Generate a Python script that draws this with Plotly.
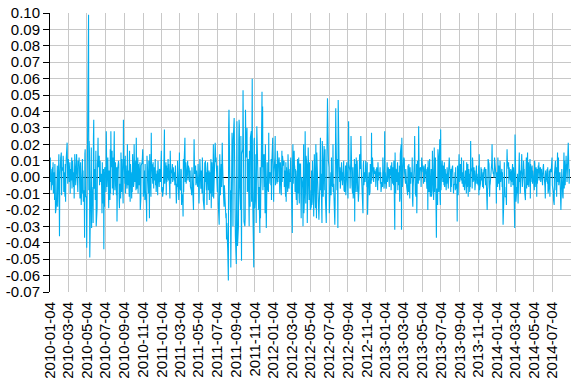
import pandas as pd
import plotly.graph_objects as go

# Daily returns, in thousandths, one line per month
r2010 = [
    4, 12, -3, 5, -8, 2, 6, -5, 9, -10, 3, -14, 8, -2, -22, -17, 4, -12, 7, -18,
    10, 14, -8, -36, -2, 12, -6, 15, -11, 6, 4, 13, 9, -9, 3, -12, 8, -15, 5, 11,
    21, 8, -4, 6, 11, -3, 2, 9, -10, 5, -2, 12, -7, 4, 10, -6, 3, -13, 7, 14, -5, 2, 8,
    14, 6, -9, 10, -4, 7, 12, -13, 5, 9, -6, -17, 3, 11, -10, 4, -15, -8, -37, 14, 17, -12,
    -12, -43, -18, -30, -26, 99, -8, 22, 15, -49, -11, -22, 18, -31, -6, -15, -28, 24, 35, -7, 5,
    -14, 12, 16, -30, -19, 8, 11, 24, 6, 13, -5, 7, 10, -3, 2, -11, -22, 9, -16, 5, -44, 3,
    -18, 6, 5, -9, 28, 14, -6, 12, -8, 7, -19, 4, -14, 17, -10, 28, 6, 16, -7, 9, 12, -11,
    28, 4, -8, -3, 9, -11, 6, -27, -12, 5, 10, 8, -14, -19, -4, -13, 15, -6, -9, 11, -2, -16,
    35, 6, 11, -4, 13, -10, 7, 2, -7, 20, 9, -5, 4, -12, 16, -3, -15, 8, -6, -13, 3, -9,
    14, -6, -4, 20, 5, -3, 10, -8, 24, 3, -7, 12, -10, 8, 2, -5, 9, -20, 4, -13, 7,
    9, 12, 17, 11, -12, -6, 4, -14, 8, -9, -16, -27, 13, 6, -3, -10, 10, -22, -25, 14, -6, -12,
    27, 5, 8, -4, 9, 3, -7, 6, -2, 11, -5, 2, -9, 4, 1, -11, 10, 3, -6, 5, -2, 4, -3,
]
r2011 = [
    16, -8, -9, -6, -12, -7, 14, 15, 29, -4, 6, 9, -11, 7, -3, 5, 11, -2, 8, 3, -13,
    16, 7, -4, 2, 5, 8, -3, 4, 6, -2, 3, -5, 1, 7, -16, -12, -4, -6, 10, -9,
    -14, -9, 15, -6, -8, 5, 4, -17, -10, -15, -24, 11, -9, 6, 24, -3, 7, 9, -4, 8, 3, 10, -2,
    7, 5, -3, 2, 4, -6, -8, -11, 6, -4, 3, -20, 4, 23, 9, 2, 7, -5, 3, 4, -2,
    -6, 8, -12, 5, -16, 11, -4, 9, -7, 4, -10, 12, -5, 7, -14, -20, 6, 9, -3, 10, -8, 3,
    -17, 5, 9, -8, -6, 4, -14, 3, -10, 11, -19, 2, 9, -12, 18, 20, -13, -6, 12, 21, 15, 9,
    12, -4, -9, 7, -13, -16, -29, -12, 14, 4, -11, 8, -6, 16, 21, 9, -10, -14, -18, -5, -15,
    -21, -25, -22, -38, -28, -45, 24, -63, 30, 41, 6, -20, -8, -55, -17, 27, 4, 18, -30, 23, 36, -5, 12,
    -24, -36, -53, -8, 34, -21, -42, -30, 22, 35, 31, -6, -20, 25, -11, -51, 14, 17, 53, -18, 10, -27,
    -30, -25, 41, 28, 12, 30, -9, 18, -8, 11, -30, 16, -12, -18, 24, 28, -15, 4, 60, -6, -32,
    -55, 22, 24, -19, -6, 14, -28, 8, 31, -10, -9, -4, -20, -6, -34, 6, -25, -8, -3, 52, 6, 43,
    -8, 12, 14, -6, -3, -22, 20, -31, 4, -19, 9, -6, -9, 27, -4, 6, 3, 2, -5, 11, -14, 8,
]
r2012 = [
    24, -9, -10, -15, 3, 12, 25, -5, 10, 8, -4, 16, 14, -3, 7, 12, -6, -10, 4, 9, -11, 6,
    16, -3, 13, 7, -5, 10, -6, 4, -12, 9, -15, 6, 3, -9, 14, -4, 2, -7, 5, -3, 8,
    12, 3, -7, -34, 10, 20, -4, 16, 8, 6, -9, 5, -14, -6, 4, -17, 11, -10, 12, -12, -16, 8,
    8, -12, -25, -8, 0, -6, -30, 10, 20, -22, -5, 28, -2, -16, 13, 7, -28, 14, 10, 18, -14,
    9, -14, -8, -20, -18, 4, -17, -15, 10, -12, -24, -11, 14, -6, -19, 20, 6, -25, 15, -9, -14, -22, -17,
    -26, -3, 10, 24, -8, 2, -28, 22, -18, 7, -12, 19, 5, -8, 17, -11, -28, -6, 9, -13, 48,
    10, 8, 6, -22, -14, -5, 3, -11, 12, -4, -6, 20, -9, -4, -19, -29, -16, 14, 42, 24, -8, 11,
    -4, -31, 47, 8, 5, -3, 6, -7, 4, 9, -2, 3, -5, 6, 10, -8, -4, -9, 7, -11, 3, -6, 9,
    -6, -13, 5, 34, 8, 4, -7, 3, 9, 25, -5, -8, -10, 6, -13, -4, 11, -27, 8, -9,
    12, -5, -9, 10, 6, -15, -11, -8, 4, 14, 5, 25, 9, 2, -6, -12, -22, 7, 10, -5, 3, -3, 8,
    10, 4, -6, 9, -23, -10, -6, 3, -11, 2, -9, 8, -4, 27, -2, 10, 12, 5, -3, 6, 2, 4,
    2, -6, 5, 3, 6, -8, 9, 4, -2, 3, 1, 6, -4, 3, -9, -3, -4, -6, 12, 5, -7,
]
r2013 = [
    0, 28, -4, 3, -7, -5, 2, 9, -3, 6, -2, 4, -6, 5, 1, 7, -8, 3, 9, -4, 6, 2, -5,
    10, -32, 15, -7, -10, 5, -3, 4, 9, -8, 3, -5, 7, -15, -13, 14, 20, -32, 24, 10,
    -6, 6, 12, 8, 11, 3, -4, 5, -2, 2, -6, -11, 7, -5, -9, 8, -13, 6, 2, -4, 3,
    0, 12, -14, -18, -6, 7, 9, 25, 5, -10, -12, 8, -22, -3, 10, -4, 31, 14, -2, 4, 6, 5,
    -6, 9, 12, 5, 3, 6, -4, 7, -3, 4, 8, 2, 5, -7, 3, 6, -20, 10, -9, -3, 11, -8, -12,
    5, -12, -10, -8, 16, -7, -14, -6, 18, -9, 12, -5, -16, -37, -7, -17, 17, 15, 11, -9,
    23, -13, -17, 29, -8, 6, 10, 4, -3, 7, -5, 9, -6, 3, 5, -8, 2, -4, 6, 3, -7, 4, 8,
    12, 8, -3, -9, 5, -6, 4, 7, -2, 6, -10, -5, -4, 3, -8, 6, -7, -4, -27, 7, -3, -11,
    14, 10, -3, 6, 8, -2, 12, 5, -4, 3, -6, 10, -5, -3, -8, 4, -2, -4, -10, 9, -6,
    8, -12, 4, 5, -9, 2, -6, 22, 6, 3, -7, 12, 9, -3, 6, -2, 4, -8, -5, 3, 7, -4, 2,
    -3, -5, 7, -11, 14, -8, -4, 3, 6, -2, 5, -6, -4, 3, -7, 4, 6, -3, 2, -5, 5,
    -9, -20, -8, -6, 11, 8, -3, -12, -5, -4, 6, 4, 9, 20, 6, 2, 3, 0, 0, 12, 5, 0,
]
r2014 = [
    0, -16, 3, -6, 12, 5, -4, 7, -8, 10, 4, -3, 2, 5, -6, 3, -14, -29, -10, 9, -7, -6, -12,
    -12, -17, 6, 17, 10, 5, 9, -4, 6, 3, -2, 5, -6, 4, -3, 8, -5, 3, 6, 2,
    -31, 26, -5, 4, -15, -6, -10, 2, -12, -16, 8, 15, -3, 4, -10, 6, 11, 14, 5, -6, 3,
    10, 4, 5, -8, -14, -4, -11, 12, -7, 15, -5, 3, 9, -6, 2, 11, -13, 8, -3, 6, 7, -4,
    4, 2, -5, -8, 10, 8, -6, 6, 3, -12, 5, -4, 7, 3, 9, -2, 4, 6, -3, 2, 5, -1,
    -5, 4, 6, 8, 3, -2, -6, -13, 4, -3, 2, 5, -4, 6, -10, -6, 4, 2, -12, 5, 3,
    10, 7, 12, -5, -9, -14, -4, -17, 2, 10, -4, -8, 6, -12, 15, -3, 6, 12, -5, 2, 3, -7, -17,
    -20, 5, -9, 4, -12, -13, 15, -7, 10, 2, -5, 13, 6, 8, -3, 3, 21, 1, -2, -4, 5,
]

start_date = "2010-01-04"
x_tick_labels = [
    "2010-01-04", "2010-03-04", "2010-05-04", "2010-07-04", "2010-09-04", "2010-11-04",
    "2011-01-04", "2011-03-04", "2011-05-04", "2011-07-04", "2011-09-04", "2011-11-04",
    "2012-01-04", "2012-03-04", "2012-05-04", "2012-07-04", "2012-09-04", "2012-11-04",
    "2013-01-04", "2013-03-04", "2013-05-04", "2013-07-04", "2013-09-04", "2013-11-04",
    "2014-01-04", "2014-03-04", "2014-05-04", "2014-07-04",
]
x_range = ["2010-01-04", "2014-09-03"]
y_ticks = [-0.07, -0.06, -0.05, -0.04, -0.03, -0.02, -0.01, 0.00,
           0.01, 0.02, 0.03, 0.04, 0.05, 0.06, 0.07, 0.08, 0.09, 0.10]

values = [v / 1000 for v in (r2010 + r2011 + r2012 + r2013 + r2014)]
dates = pd.bdate_range(start=start_date, periods=len(values))

font = dict(family="Liberation Sans, Arial, Helvetica, sans-serif", size=15, color="#000000")
grid = "#c8c8c8"

fig = go.Figure()
fig.add_trace(go.Scatter(
    x=dates, y=values, mode="lines",
    line=dict(color="#00AEEF", width=1.1),
    hoverinfo="skip", showlegend=False,
))

fig.update_layout(
    width=583, height=381,
    margin=dict(l=50, r=12, t=13, b=89, autoexpand=False),
    paper_bgcolor="white", plot_bgcolor="white",
    font=font,
    xaxis=dict(
        type="date", range=x_range, automargin=False,
        tickvals=x_tick_labels, ticktext=x_tick_labels,
        tickangle=-90, tickfont=font,
        showgrid=True, gridcolor=grid, gridwidth=1,
        showline=False, zeroline=False,
        ticks="outside", ticklen=3, tickcolor="rgba(0,0,0,0)",
    ),
    yaxis=dict(
        range=[-0.07, 0.10], automargin=False,
        tickvals=y_ticks, ticktext=[f"{v:.2f}" for v in y_ticks],
        tickfont=font,
        showgrid=True, gridcolor=grid, gridwidth=1,
        showline=True, linecolor="#000000", linewidth=1,
        ticks="outside", ticklen=6, tickcolor="#000000",
        zeroline=True, zerolinecolor="#000000", zerolinewidth=1,
    ),
)

fig.write_html(
    "out.html",
    config={"displayModeBar": False},
    post_script="document.body.style.margin='0';document.body.style.padding='0';",
)
